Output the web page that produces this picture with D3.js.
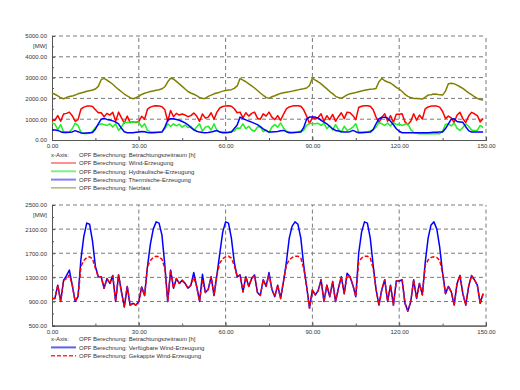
<!DOCTYPE html>
<html><head><meta charset="utf-8">
<script src="https://cdn.jsdelivr.net/npm/d3@7"></script>
<style>
body{margin:0;background:#fff}
text{font-family:"Liberation Sans",Arial,sans-serif;font-size:6px;fill:#333}
</style>
</head><body><svg id="c" width="520" height="390"></svg>
<script>
// ---------- DATA (hourly, t = 0 .. 149) ----------
const hours = d3.range(150);

const windGekappt = [950,950,1170,900,1250,1280,1340,1170,900,980,
1480,1580,1630,1640,1610,1450,1310,1310,1120,1280,
1200,1330,900,1340,1060,810,1150,840,870,840,
900,1140,1000,1480,1580,1630,1650,1640,1600,1450,
900,1420,1120,1280,1200,1250,1200,1120,1170,1300,
1150,900,1250,1050,1100,1310,1000,1340,1540,1610,
1640,1650,1620,1500,1310,1340,1060,1310,1150,1280,
1340,1050,1000,1260,1150,1340,1100,980,1170,950,
1230,1500,1590,1630,1650,1650,1620,1450,1150,790,
1090,1010,1080,1260,900,1170,980,1230,900,1120,
1310,1030,1340,1310,1170,980,1560,1620,1650,1650,
1620,1450,1100,840,1100,1260,900,1170,840,1240,
1240,1260,870,740,900,1260,950,1200,1010,1500,
1590,1630,1640,1630,1580,1370,1030,1150,1060,840,
1200,1330,1030,840,1150,1330,1260,1170,870,1030];

const windVerfuegbar = [950,950,1170,900,1250,1330,1420,1170,900,980,
1600,1980,2200,2180,1900,1480,1310,1310,1120,1280,
1200,1330,900,1340,1060,810,1150,840,870,840,
900,1140,1000,1480,1850,2100,2220,2200,2000,1500,
900,1420,1120,1280,1200,1250,1200,1120,1170,1380,
1150,900,1350,1050,1100,1310,1000,1340,1700,2050,
2220,2200,1950,1550,1310,1340,1060,1310,1150,1280,
1340,1050,1000,1260,1150,1380,1100,980,1170,950,
1230,1550,1950,2150,2220,2180,1950,1500,1150,790,
1090,1010,1080,1260,900,1170,980,1230,900,1120,
1310,1030,1370,1310,1170,980,1700,2050,2220,2200,
1950,1500,1100,840,1100,1260,900,1170,840,1240,
1240,1260,870,740,900,1260,950,1200,1010,1550,
1950,2170,2220,2100,1800,1370,1030,1150,1060,840,
1200,1330,1030,840,1150,1330,1260,1170,870,1030];

const hydraulisch = [820,770,500,740,380,400,380,540,810,700,
380,310,310,320,420,600,720,780,740,700,
780,620,780,460,620,860,840,850,850,860,
860,620,780,460,390,380,370,370,400,540,
780,650,780,680,760,620,720,600,660,460,
620,780,420,620,660,480,780,460,380,380,
380,380,410,430,580,560,780,540,660,480,
420,620,640,400,480,360,620,740,620,820,
580,420,380,370,370,390,430,460,700,800,
780,780,800,700,800,540,700,480,740,500,
380,660,460,520,620,780,380,380,380,390,
430,500,620,840,780,700,820,680,840,740,
760,700,760,780,500,360,320,300,300,300,
300,300,300,300,300,420,760,760,680,820,
560,460,600,780,660,480,460,460,700,600];

const thermisch = [490,480,460,400,360,360,370,390,450,400,
340,330,340,350,360,520,780,1000,1040,990,
960,920,860,780,560,400,350,350,350,370,
390,410,400,360,350,350,360,370,380,620,
950,1020,1020,990,950,890,820,730,600,500,
420,380,360,350,360,380,420,460,380,350,
350,360,380,550,720,1100,1030,970,910,860,
800,740,640,540,450,380,380,400,410,440,
460,400,350,350,360,370,380,600,1000,1100,
1100,1100,1050,940,860,780,650,540,460,430,
400,380,380,400,460,400,350,350,360,370,
380,500,780,1020,1080,1100,1050,900,730,540,
420,350,350,350,350,350,350,350,350,350,
350,360,370,370,380,380,550,780,1000,1020,
890,870,850,640,450,380,380,380,380,380];

const netzlast = [2260,2200,2120,2030,1980,2050,2090,2110,2160,2220,
2260,2300,2340,2370,2400,2450,2580,2900,2960,2880,
2780,2680,2550,2430,2320,2210,2120,2040,1980,2030,
2100,2190,2250,2290,2330,2360,2390,2420,2460,2560,
2800,2970,2930,2820,2700,2580,2450,2330,2260,2200,
2130,2040,2000,2000,2100,2160,2220,2260,2300,2350,
2380,2400,2420,2480,2600,2960,2880,2800,2700,2600,
2500,2380,2260,2150,2050,2000,2080,2130,2190,2240,
2270,2300,2320,2350,2380,2410,2440,2460,2500,2620,
2970,2880,2800,2700,2580,2460,2330,2230,2100,2040,
2000,2080,2170,2220,2250,2280,2320,2360,2390,2420,
2440,2450,2480,2800,2960,2850,2790,2740,2640,2530,
2450,2330,2190,2100,2040,2000,1990,1980,1970,2060,
2160,2180,2210,2200,2170,2160,2350,2700,2730,2700,
2640,2560,2480,2370,2270,2180,2080,2000,1950,1920];

const xTicks = [0,30,60,90,120,150];
const xMinorTicks = [15,45,75,105,135];
const topYTicks = [0,1000,2000,3000,4000,5000];
const topYMinor = [500,1500,2500,3500,4500];
const botYTicks = [500,900,1300,1700,2100,2500];
const botYMinor = [700,1100,1500,1900,2300];
const unitLabel = "[MW]";
const xAxisLabel = "x-Axis:";
const xAxisName = "OPF Berechnung: Betrachtungszeitraum [h]";

const topSeries = [
  {name:"OPF Berechnung: Wind-Erzeugung", values:windGekappt, color:"#ff0000", legendColor:"#ff2020", lw:1},
  {name:"OPF Berechnung: Hydraulische-Erzeugung", values:hydraulisch, color:"#22ee22", legendColor:"#80f080", lw:2},
  {name:"OPF Berechnung: Thermische-Erzeugung", values:thermisch, color:"#0000ff", legendColor:"#8080f8", lw:2},
  {name:"OPF Berechnung: Netzlast", values:netzlast, color:"#808000", legendColor:"#909030", lw:1}
];
const botSeries = [
  {name:"OPF Berechnung: Verfügbare Wind-Erzeugung", values:windVerfuegbar, color:"#0000ff", legendColor:"#6060f0", lw:2},
  {name:"OPF Berechnung: Gekappte Wind-Erzeugung", values:windGekappt, color:"#ff0000", legendColor:"#ff3030", lw:1.4, dash:"4,2"}
];

// ---------- DRAWING ----------
const svg = d3.select("#c");
const fmt = d3.format(".2f");

function panel(cfg){
  const x = d3.scaleLinear().domain([0,150]).range([52,486]);
  const y = d3.scaleLinear().domain(cfg.domain).range([cfg.bottom, cfg.top]);
  const g = svg.append("g");

  // grid (dashed)
  g.selectAll(".hg").data(cfg.yTicks.slice(1)).join("line")
    .attr("x1",x(0)).attr("x2",x(150)).attr("y1",d=>y(d)).attr("y2",d=>y(d))
    .attr("stroke","#7a7a7a").attr("stroke-width",1).attr("stroke-dasharray","4,3");
  g.selectAll(".vg").data(xTicks.slice(1)).join("line")
    .attr("x1",d=>x(d)).attr("x2",d=>x(d)).attr("y1",y(cfg.domain[0])).attr("y2",y(cfg.domain[1]))
    .attr("stroke","#7a7a7a").attr("stroke-width",1).attr("stroke-dasharray","4,3");

  // axes
  g.append("g").attr("transform",`translate(0,${cfg.bottom})`)
    .call(d3.axisBottom(x).tickValues(xTicks).tickFormat(fmt).tickSize(-3).tickPadding(4));
  g.append("g").attr("transform",`translate(0,${cfg.bottom})`)
    .call(d3.axisBottom(x).tickValues(xMinorTicks).tickFormat("").tickSize(-2));
  g.append("g").attr("transform",`translate(52,0)`)
    .call(d3.axisLeft(y).tickValues(cfg.yTicks).tickFormat(fmt).tickSize(-3).tickPadding(5));
  g.append("g").attr("transform",`translate(52,0)`)
    .call(d3.axisLeft(y).tickValues(cfg.yMinor).tickFormat("").tickSize(-2));
  g.selectAll(".domain").attr("stroke","#555");
  g.selectAll(".tick line").attr("stroke","#555");
  g.selectAll(".tick text").style("font-size","6px").attr("fill","#333");

  g.append("text").attr("x",47).attr("y",y(cfg.domain[1])+12).attr("text-anchor","end").text(unitLabel);

  // series
  const line = d3.line().x((d,i)=>x(hours[i])).y(d=>y(d));
  cfg.series.forEach(s=>{
    g.append("path").datum(s.values).attr("d",line)
      .attr("fill","none").attr("stroke",s.color).attr("stroke-width",1.5)
      .attr("stroke-linejoin","round")
      .attr("stroke-dasharray",s.dash||null);
  });

  // legend
  const ly = cfg.legendY;
  g.append("text").attr("x",51).attr("y",ly+2.2).text(xAxisLabel);
  g.append("text").attr("x",79).attr("y",ly+2.2).text(xAxisName);
  cfg.series.forEach((s,i)=>{
    const yy = ly + cfg.legendStep*(i+1);
    g.append("line").attr("x1",51).attr("x2",76).attr("y1",yy).attr("y2",yy)
      .attr("stroke",s.legendColor).attr("stroke-width",s.lw).attr("stroke-dasharray",s.dash||null);
    g.append("text").attr("x",79).attr("y",yy+2.2).text(s.name);
  });
}

panel({domain:[0,5000], top:36, bottom:140, yTicks:topYTicks, yMinor:topYMinor,
       series:topSeries, legendY:154.7, legendStep:8.3});
panel({domain:[500,2500], top:205, bottom:325.6, yTicks:botYTicks, yMinor:botYMinor,
       series:botSeries, legendY:339, legendStep:8.4});
</script></body></html>
